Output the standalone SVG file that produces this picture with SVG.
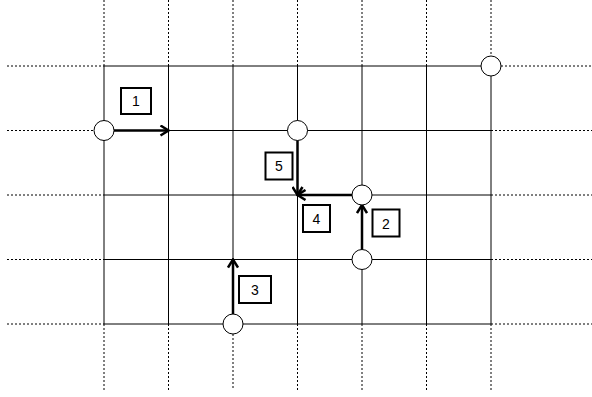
<svg xmlns="http://www.w3.org/2000/svg" width="592" height="397" viewBox="0 0 592 397">
<style>
.dot{stroke:#000;stroke-width:1;stroke-dasharray:2,2;fill:none}
.grid{stroke:#000;stroke-width:1;fill:none}
.node{fill:#fff;stroke:#000;stroke-width:1}
.box{fill:#fff;stroke:#000;stroke-width:2}
.lbl{font-family:"Liberation Sans",Arial,sans-serif;font-size:14px;text-anchor:middle;fill:#000}
.arr{stroke:#000;stroke-width:2.5;fill:none;marker-end:url(#ah)}
</style>
<defs>
<marker id="ah" markerUnits="userSpaceOnUse" viewBox="0 0 12 12" refX="10" refY="6" markerWidth="12" markerHeight="12" orient="auto">
<path d="M2,1 L10,6 L2,11" fill="none" stroke="#000" stroke-width="2.5"/>
</marker>
</defs>
<g id="dotted">
<path class="dot" d="M104,0V66M168.5,0V66M233,0V66M297.5,0V66M362,0V66M426.5,0V66M491,0V56"/>
<path class="dot" d="M104,324V390M168.5,324V390M233,334V390M297.5,324V390M362,324V390M426.5,324V390M491,324V390"/>
<path class="dot" d="M7,66H104M7,130.5H94M7,195H104M7,259.5H104M7,324H104"/>
<path class="dot" d="M501,66H592M491,130.5H592M491,195H592M491,259.5H592M491,324H592"/>
</g>
<g id="grid">
<path class="grid" d="M104,66H481M104,130.5H491M104,195H491M104,259.5H491M104,324H491"/>
<path class="grid" d="M104,66V324M168.5,66V324M233,66V324M297.5,66V324M362,66V324M426.5,66V324M491,76V324"/>
</g>
<g id="connectors">
<path class="arr" d="M114,130.5H168.5"/>
<path class="arr" d="M297.5,140.5V195"/>
<path class="arr" d="M352,195H297.5"/>
<path class="arr" d="M362,249.5V205"/>
<path class="arr" d="M233,314V259.5"/>
</g>
<g id="n1"><circle class="node" cx="104" cy="130.5" r="10"/></g>
<g id="n2"><circle class="node" cx="297.5" cy="130.5" r="10"/></g>
<g id="n3"><circle class="node" cx="362" cy="195" r="10"/></g>
<g id="n4"><circle class="node" cx="362" cy="259.5" r="10"/></g>
<g id="n5"><circle class="node" cx="233" cy="324" r="10"/></g>
<g id="n6"><circle class="node" cx="491" cy="66" r="10"/></g>
<g id="b1"><rect class="box" x="121" y="88" width="30" height="26"/><text class="lbl" x="136" y="106">1</text></g>
<g id="b5"><rect class="box" x="265.5" y="152.5" width="27" height="27"/><text class="lbl" x="279" y="171">5</text></g>
<g id="b4"><rect class="box" x="303" y="205" width="27" height="27"/><text class="lbl" x="316.5" y="224">4</text></g>
<g id="b2"><rect class="box" x="372.5" y="209.5" width="27" height="27"/><text class="lbl" x="386" y="228.5">2</text></g>
<g id="b3"><rect class="box" x="239" y="276" width="32" height="27"/><text class="lbl" x="255" y="295">3</text></g>
</svg>
